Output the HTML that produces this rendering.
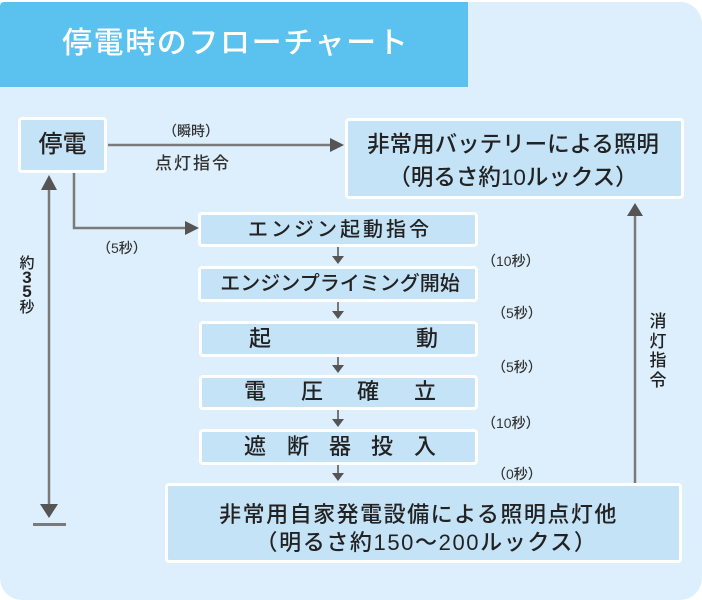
<!DOCTYPE html>
<html><head><meta charset="utf-8"><style>
*{margin:0;padding:0;box-sizing:border-box}
body{width:702px;height:600px;background:#fff;position:relative;overflow:hidden;font-family:"Liberation Sans","Noto Sans CJK JP",sans-serif;color:#222}
.panel{position:absolute;left:0;top:2px;width:702px;height:598px;background:#ddeffc;border-radius:22px}
.header{position:absolute;left:0;top:2px;width:468px;height:85px;background:#5bc1ee;border-top-left-radius:4px}
.title{position:absolute;left:62px;top:24px;font-size:30px;line-height:40px;color:#fff;letter-spacing:1.6px;white-space:nowrap;font-weight:500}
.box{position:absolute;background:#c4e3f7;border:3px solid #fff;border-radius:4px}
.t{position:absolute;white-space:nowrap;font-weight:500}
.c{position:absolute;width:30px;text-align:center;font-size:22px;line-height:26px;font-weight:500}
.lab{position:absolute;font-size:14px;line-height:16px;color:#333;white-space:nowrap;font-weight:500}
svg{position:absolute;left:0;top:0}
</style></head><body>
<div class="panel"></div>
<div class="header"></div>
<div class="title">停電時のフローチャート</div>

<div class="box" style="left:18px;top:117px;width:89px;height:56px"></div>
<div class="t" style="left:18px;top:130px;width:89px;text-align:center;font-size:24px;line-height:30px">停電</div>

<div class="box" style="left:345px;top:118px;width:339px;height:81px"></div>
<div class="t" style="left:345px;top:131px;width:336px;text-align:center;font-size:22.5px;line-height:28px">非常用バッテリーによる照明</div>
<div class="t" style="left:345px;top:164px;width:336px;text-align:center;font-size:22.5px;line-height:28px">（明るさ約10ルックス）</div>

<div class="box" style="left:198px;top:212px;width:280px;height:35px"></div>
<div class="t" style="left:198px;top:217px;width:284px;text-align:center;font-size:20px;line-height:26px;letter-spacing:3px">エンジン起動指令</div>

<div class="box" style="left:198px;top:266px;width:280px;height:36px"></div>
<div class="t" style="left:198px;top:271px;width:284px;text-align:center;font-size:20px;line-height:26px">エンジンプライミング開始</div>

<div class="box" style="left:199px;top:321px;width:279px;height:36px"></div>
<div class="c" style="left:245px;top:326px">起</div>
<div class="c" style="left:412px;top:326px">動</div>

<div class="box" style="left:199px;top:375px;width:279px;height:35px"></div>
<div class="c" style="left:240px;top:379px">電</div>
<div class="c" style="left:297px;top:379px">圧</div>
<div class="c" style="left:353px;top:379px">確</div>
<div class="c" style="left:410px;top:379px">立</div>

<div class="box" style="left:199px;top:429px;width:279px;height:36px"></div>
<div class="c" style="left:240px;top:434px">遮</div>
<div class="c" style="left:283px;top:434px">断</div>
<div class="c" style="left:325px;top:434px">器</div>
<div class="c" style="left:367px;top:434px">投</div>
<div class="c" style="left:410px;top:434px">入</div>

<div class="box" style="left:165px;top:483px;width:517px;height:80px"></div>
<div class="t" style="left:160px;top:501px;width:517px;text-align:center;font-size:22px;line-height:28px;letter-spacing:1.5px">非常用自家発電設備による照明点灯他</div>
<div class="t" style="left:168px;top:529px;width:517px;text-align:center;font-size:22px;line-height:28px;letter-spacing:1.6px">（明るさ約150〜200ルックス）</div>

<div class="lab" style="left:163px;top:123px">（瞬時）</div>
<div class="lab" style="left:155px;top:154px;font-size:17px;line-height:20px;letter-spacing:2px">点灯指令</div>
<div class="lab" style="left:97px;top:240px">（5秒）</div>

<div class="lab" style="left:482px;top:253px">（10秒）</div>
<div class="lab" style="left:492px;top:305px">（5秒）</div>
<div class="lab" style="left:492px;top:359px">（5秒）</div>
<div class="lab" style="left:482px;top:415px">（10秒）</div>
<div class="lab" style="left:492px;top:466px">（0秒）</div>

<div class="lab" style="left:17px;top:256px;width:20px;text-align:center;font-size:15px;line-height:15px;color:#222">約</div>
<div class="lab" style="left:17px;top:271px;width:20px;text-align:center;font-size:17px;line-height:14px;font-weight:bold;color:#222">3<br>5</div>
<div class="lab" style="left:17px;top:300px;width:20px;text-align:center;font-size:15px;line-height:15px;color:#222">秒</div>
<div class="lab" style="left:648px;top:312px;width:20px;text-align:center;font-size:17px;line-height:19.5px;color:#222">消<br>灯<br>指<br>令</div>

<svg width="702" height="600" viewBox="0 0 702 600">
<g stroke="#7a7a7a" stroke-width="2.5" fill="none">
<line x1="108" y1="145" x2="332" y2="145"/>
<polyline points="74,173 74,228 188,228"/>
<line x1="49" y1="188" x2="49" y2="505"/>
<line x1="635" y1="214" x2="635" y2="483"/>
</g>
<line x1="33" y1="524.5" x2="66" y2="524.5" stroke="#7a7a7a" stroke-width="3"/>
<g fill="#555">
<polygon points="330,138 344,145 330,152"/>
<polygon points="185,221 199,228 185,235"/>
<polygon points="41,190 49,175 57,190"/>
<polygon points="40,504 58,504 49,518"/>
<polygon points="627,216 635,203 643,216"/>
</g>
<g stroke="#777" stroke-width="2">
<line x1="338" y1="247" x2="338" y2="257"/>
<line x1="338" y1="302" x2="338" y2="312"/>
<line x1="338" y1="357" x2="338" y2="366"/>
<line x1="338" y1="410" x2="338" y2="420"/>
<line x1="338" y1="465" x2="338" y2="474"/>
</g>
<g fill="#555">
<polygon points="332,256 344,256 338,264"/>
<polygon points="332,311 344,311 338,319"/>
<polygon points="332,365 344,365 338,373"/>
<polygon points="332,419 344,419 338,427"/>
<polygon points="332,473 344,473 338,481"/>
</g>
</svg>
</body></html>
